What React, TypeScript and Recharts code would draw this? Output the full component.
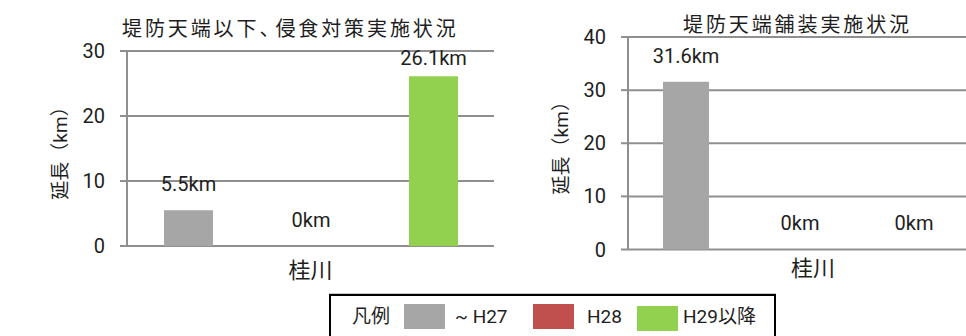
import React from "react";
import { BarChart, Bar, XAxis, YAxis, CartesianGrid, LabelList } from "recharts";

// ---- data ----
const categories = ["桂川"];
const seriesKeys = ["h27", "h28", "h29"];
const seriesNames = ["~ H27", "H28", "H29以降"];
const seriesColors = ["#A6A6A6", "#C0504D", "#92D050"];
const erosionValues = [5.5, 0, 26.1];
const pavementValues = [31.6, 0, 0];
const erosionTicks = [0, 10, 20, 30];
const pavementTicks = [0, 10, 20, 30, 40];
const erosionTitle = ["堤防天端以下", "、", "侵食対策実施状況"];
const pavementTitle = "堤防天端舗装実施状況";
const yAxisTitle = "延長（km）";
const legendTitle = "凡例";

const buildRows = (values: number[]) =>
  categories.map((c) => {
    const row: any = { name: c };
    seriesKeys.forEach((k, i) => (row[k] = values[i]));
    return row;
  });

const erosionData = buildRows(erosionValues);
const pavementData = buildRows(pavementValues);

const FONT = "Roboto, 'Noto Sans CJK JP', sans-serif";
const TEXT = "#1e1e1e";
const GRID = "#8f8f8f";

const makeLabel = (plotTop: number) => (props: any) => {
  const { x, y, width, value } = props;
  const cy = Math.max(Number(y) - 26, plotTop + 7);
  return (
    <text
      x={Number(x) + Number(width) / 2}
      y={cy}
      textAnchor="middle"
      dominantBaseline="central"
      fontFamily={FONT}
      fontSize={20}
      fill={TEXT}
    >
      {value}km
    </text>
  );
};

const makeXTick = (dx: number, dy: number) => (props: any) => {
  const { x, y, payload } = props;
  return (
    <text
      x={Number(x) + dx}
      y={Number(y) + dy}
      textAnchor="middle"
      dominantBaseline="central"
      fontFamily={FONT}
      fontSize={22}
      fill={TEXT}
    >
      {payload.value}
    </text>
  );
};

const YTitle = (props: any) => {
  const vb = props.viewBox || {};
  const cx = vb.x - 27;
  const cy = vb.y + vb.height / 2;
  return (
    <text
      x={cx}
      y={cy}
      transform={`rotate(-90 ${cx} ${cy})`}
      textAnchor="middle"
      dominantBaseline="central"
      fontFamily={FONT}
      fontSize={19}
      fill={TEXT}
    >
      {yAxisTitle}
    </text>
  );
};

const zeroMin = (v: any) => (Number(v) === 0 ? 0.01 : 0);

type PanelProps = {
  data: any[];
  ticks: number[];
  width: number;
  height: number;
  margin: any;
  barSize: number;
  barGap: number;
  tickDx: number;
  tickDy: number;
};

const Panel = ({ data, ticks, width, height, margin, barSize, barGap, tickDx, tickDy }: PanelProps) => (
  <BarChart
    width={width}
    height={height}
    data={data}
    margin={margin}
    barSize={barSize}
    barGap={barGap}
  >
    <CartesianGrid vertical={false} stroke={GRID} strokeWidth={2} />
    <XAxis
      dataKey="name"
      axisLine={false}
      tickLine={false}
      tickSize={0}
      tickMargin={0}
      height={30}
      tick={makeXTick(tickDx, tickDy)}
      interval={0}
    />
    <YAxis
      domain={[ticks[0], ticks[ticks.length - 1]]}
      ticks={ticks}
      width={40}
      axisLine={{ stroke: GRID, strokeWidth: 2 }}
      tickLine={{ stroke: GRID, strokeWidth: 2 }}
      tickSize={7}
      tickMargin={15}
      tick={{ fill: TEXT, fontSize: 20, fontFamily: FONT }}
      label={<YTitle />}
    />
    {seriesKeys.map((k, i) => (
      <Bar
        key={k}
        dataKey={k}
        name={seriesNames[i]}
        fill={seriesColors[i]}
        minPointSize={zeroMin}
        isAnimationActive={false}
      >
        <LabelList dataKey={k} content={makeLabel(margin.top)} />
      </Bar>
    ))}
  </BarChart>
);

const titleStyle = (left: number, top: number): React.CSSProperties => ({
  position: "absolute",
  left,
  top,
  fontFamily: FONT,
  fontSize: 20,
  letterSpacing: 2.9,
  color: TEXT,
  whiteSpace: "nowrap",
  lineHeight: "24px",
});

export default function App() {
  return (
    <div
      style={{
        position: "fixed",
        left: 0,
        top: 0,
        width: 966,
        height: 336,
        overflow: "hidden",
        background: "#fff",
      }}
    >
      <div style={{ position: "absolute", left: 0, top: 0 }}>
        <Panel
          data={erosionData}
          ticks={erosionTicks}
          width={500}
          height={290}
          margin={{ top: 51, right: 6, bottom: 14, left: 87 }}
          barSize={49}
          barGap={73.5}
          tickDx={0}
          tickDy={24}
        />
      </div>
      <div style={{ position: "absolute", left: 500, top: 0 }}>
        <Panel
          data={pavementData}
          ticks={pavementTicks}
          width={472}
          height={290}
          margin={{ top: 37, right: 0, bottom: 10.5, left: 88 }}
          barSize={46}
          barGap={68}
          tickDx={13}
          tickDy={19}
        />
      </div>
      <div style={titleStyle(122, 17)}>
        {erosionTitle[0]}
        <span style={{ letterSpacing: -4 }}>{erosionTitle[1]}</span>
        {erosionTitle[2]}
      </div>
      <div style={titleStyle(683, 13)}>{pavementTitle}</div>

      {/* legend */}
      <div
        style={{
          position: "absolute",
          left: 329,
          top: 294,
          width: 443,
          height: 60,
          border: "2px solid #000",
          boxShadow: "0 -1px 0 #c8c8c8",
          fontFamily: FONT,
          color: TEXT,
          background: "#fff",
        }}
      >
        <div style={{ position: "absolute", left: 21, top: 9, fontSize: 19, lineHeight: "24px" }}>
          {legendTitle}
        </div>
        {seriesNames.map((n, i) => {
          const swatchLeft = [73, 202, 306][i];
          const swatchTop = [8, 8, 10][i];
          const textLeft = [124, 256, 352][i];
          return (
            <React.Fragment key={n}>
              <div
                style={{
                  position: "absolute",
                  left: swatchLeft,
                  top: swatchTop,
                  width: 41,
                  height: 25,
                  background: seriesColors[i],
                }}
              />
              <div
                style={{
                  position: "absolute",
                  left: textLeft,
                  top: 9,
                  fontSize: 19,
                  lineHeight: "24px",
                  whiteSpace: "nowrap",
                }}
              >
                {n}
              </div>
            </React.Fragment>
          );
        })}
      </div>
    </div>
  );
}
